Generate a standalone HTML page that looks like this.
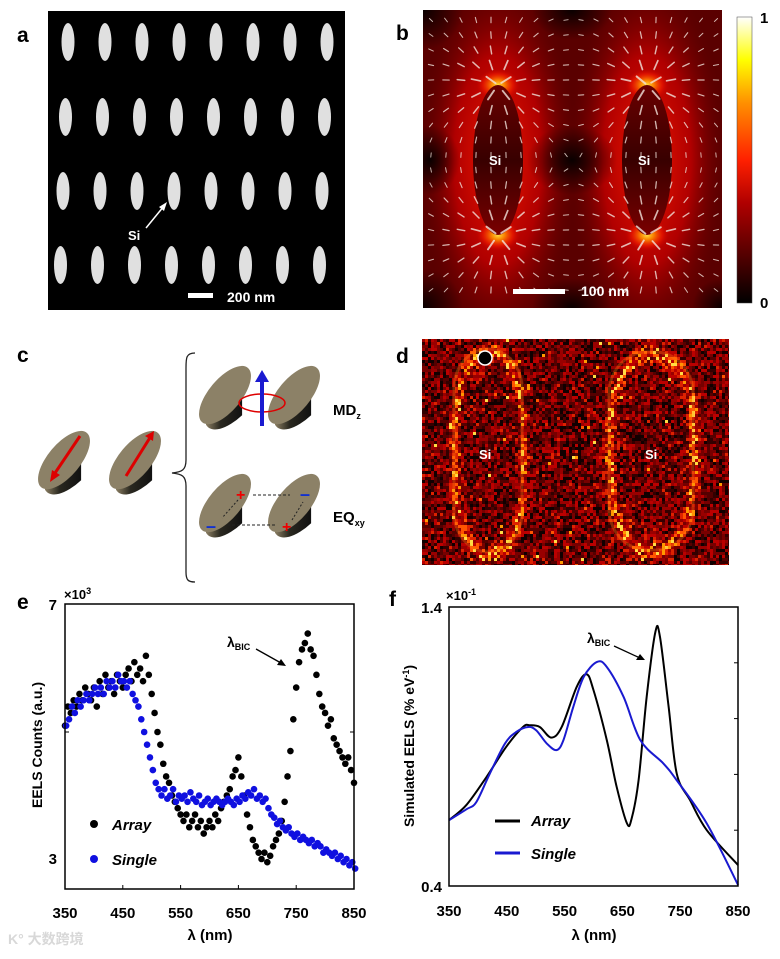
<!DOCTYPE html>
<html><head><meta charset="utf-8">
<style>
html,body{margin:0;padding:0;background:#fff;}
body{width:780px;height:954px;position:relative;overflow:hidden;font-family:"Liberation Sans","Noto Sans CJK SC",sans-serif;}
svg text{font-family:"Liberation Sans","Noto Sans CJK SC",sans-serif;font-weight:bold;}
</style></head>
<body>
<svg id="fig" width="780" height="954" viewBox="0 0 780 954" xmlns="http://www.w3.org/2000/svg">
<defs>
 <clipPath id="clipB"><rect x="423" y="10" width="299" height="298"/></clipPath>
 <clipPath id="clipD"><rect x="422" y="339" width="307" height="226"/></clipPath>
 <radialGradient id="glow" cx="0.5" cy="0.5" r="0.5">
  <stop offset="0" stop-color="#ffe040"/><stop offset="0.3" stop-color="#ff9000" stop-opacity="0.9"/><stop offset="0.7" stop-color="#ff2000" stop-opacity="0.5"/><stop offset="1" stop-color="#d00000" stop-opacity="0"/>
 </radialGradient>
 <radialGradient id="redhalo" cx="0.5" cy="0.5" r="0.5">
  <stop offset="0" stop-color="#f01800"/><stop offset="0.55" stop-color="#c00000" stop-opacity="0.85"/><stop offset="1" stop-color="#600000" stop-opacity="0"/>
 </radialGradient>
 <radialGradient id="darkspot" cx="0.5" cy="0.5" r="0.5">
  <stop offset="0" stop-color="#000" stop-opacity="0.9"/><stop offset="1" stop-color="#000" stop-opacity="0"/>
 </radialGradient>
 <linearGradient id="cbar" x1="0" y1="1" x2="0" y2="0">
  <stop offset="0" stop-color="#000"/><stop offset="0.35" stop-color="#b00000"/><stop offset="0.5" stop-color="#ff2000"/><stop offset="0.7" stop-color="#ff9000"/><stop offset="0.85" stop-color="#ffff00"/><stop offset="1" stop-color="#ffffff"/>
 </linearGradient>
 <linearGradient id="innerSi" x1="0" y1="0" x2="0" y2="1">
  <stop offset="0" stop-color="#6a0000"/><stop offset="0.5" stop-color="#380000"/><stop offset="1" stop-color="#7a0000"/>
 </linearGradient>
 <linearGradient id="side" x1="0" y1="0" x2="1" y2="0">
  <stop offset="0" stop-color="#8a7e62"/><stop offset="0.4" stop-color="#2a2820"/><stop offset="1" stop-color="#111"/>
 </linearGradient>
</defs>

<!-- Panel a -->
<text x="17" y="42" font-size="21">a</text>
<g id="panelA">
 <rect x="48" y="11" width="297" height="299" fill="#000"/>
</g>
<text x="128" y="240" font-size="13" fill="#fff">Si</text>
<line x1="146" y1="228" x2="164" y2="206" stroke="#fff" stroke-width="1.5"/>
<polygon points="167,202 159,207 164,211" fill="#fff"/>
<rect x="188" y="293" width="25" height="5" fill="#fff"/>
<text x="227" y="302" font-size="14" fill="#fff">200 nm</text>

<!-- Panel b -->
<text x="396" y="40" font-size="21">b</text>
<g clip-path="url(#clipB)">
 <rect x="423" y="10" width="299" height="298" fill="#5a0000"/>
 <ellipse cx="498" cy="160" rx="80" ry="190" fill="url(#redhalo)"/>
 <ellipse cx="647" cy="160" rx="80" ry="190" fill="url(#redhalo)"/>
 <ellipse cx="498" cy="85" rx="22" ry="16" fill="url(#glow)"/>
 <ellipse cx="498" cy="235" rx="22" ry="16" fill="url(#glow)"/>
 <ellipse cx="647" cy="85" rx="22" ry="16" fill="url(#glow)"/>
 <ellipse cx="647" cy="235" rx="22" ry="16" fill="url(#glow)"/>
 <ellipse cx="572" cy="160" rx="45" ry="35" fill="url(#darkspot)"/>
 <ellipse cx="430" cy="160" rx="30" ry="35" fill="url(#darkspot)"/>
 <ellipse cx="572" cy="10" rx="40" ry="30" fill="url(#darkspot)"/>
 <ellipse cx="572" cy="308" rx="40" ry="30" fill="url(#darkspot)"/>
 <ellipse cx="423" cy="10" rx="40" ry="40" fill="url(#darkspot)"/>
 <ellipse cx="423" cy="308" rx="40" ry="40" fill="url(#darkspot)"/>
 <ellipse cx="722" cy="308" rx="30" ry="30" fill="url(#darkspot)"/>
 <ellipse cx="498" cy="160" rx="25" ry="75" fill="url(#innerSi)"/>
 <ellipse cx="647" cy="160" rx="25" ry="75" fill="url(#innerSi)"/>
 <g id="arrowsB"></g>
</g>
<text x="489" y="165" font-size="13" fill="#fff">Si</text>
<text x="638" y="165" font-size="13" fill="#fff">Si</text>
<rect x="513" y="289" width="52" height="5" fill="#fff"/>
<text x="581" y="296" font-size="14" fill="#fff">100 nm</text>
<rect x="737" y="17" width="15" height="286" fill="url(#cbar)" stroke="#444" stroke-width="0.5"/>
<text x="760" y="23" font-size="15">1</text>
<text x="760" y="308" font-size="15">0</text>

<!-- Panel c -->
<text x="17" y="362" font-size="21">c</text>
<g id="panelC"></g>
<path d="M195,353 C186,353 186,358 186,368 L186,460 C186,470 182,472 172,473 C182,474 186,476 186,486 L186,572 C186,580 188,582 195,582" fill="none" stroke="#222" stroke-width="1.3"/>
<text x="333" y="415" font-size="15">MD<tspan font-size="9" dy="4">z</tspan></text>
<text x="333" y="522" font-size="15">EQ<tspan font-size="9" dy="4">xy</tspan></text>

<!-- Panel d -->
<text x="396" y="363" font-size="21">d</text>
<g clip-path="url(#clipD)">
 <rect x="422" y="339" width="307" height="226" fill="#2a0000"/>
 <g id="noiseD"></g>
 <rect x="454" y="349" width="68" height="203" rx="34" ry="40" fill="none" stroke="#ff8a10" stroke-width="3" opacity="0.3"/>
 <rect x="609" y="352" width="84" height="198" rx="38" ry="42" fill="none" stroke="#ff8a10" stroke-width="3" opacity="0.3"/>
 <circle cx="485" cy="358" r="7" fill="#000" stroke="#fff" stroke-width="1.5"/>
</g>
<text x="479" y="459" font-size="13" fill="#fff">Si</text>
<text x="645" y="459" font-size="13" fill="#fff">Si</text>

<!-- Panel e -->
<text x="17" y="609" font-size="21">e</text>
<g id="chartE"></g>

<!-- Panel f -->
<text x="389" y="606" font-size="21">f</text>
<g id="chartF"></g>

<text x="8" y="944" font-size="14" fill="#d8d8d8" font-weight="normal">K° 大数跨境</text>
</svg>

<script>
// ---------- Panel e data ----------
const eWavelengths=[350,355,360,365,370,375,380,385,390,395,400,405,410,415,420,425,430,435,440,445,450,455,460,465,470,475,480,485,490,495,500,505,510,515,520,525,530,535,540,545,550,555,560,565,570,575,580,585,590,595,600,605,610,615,620,625,630,635,640,645,650,655,660,665,670,675,680,685,690,695,700,705,710,715,720,725,730,735,740,745,750,755,760,765,770,775,780,785,790,795,800,805,810,815,820,825,830,835,840,845,850];
const eArray=[5.1,5.4,5.3,5.5,5.4,5.6,5.5,5.7,5.6,5.5,5.7,5.4,5.8,5.6,5.9,5.7,5.8,5.6,5.9,5.8,5.7,5.9,6.0,5.8,6.1,5.9,6.0,5.8,6.2,5.9,5.6,5.3,5.0,4.8,4.5,4.3,4.2,4.0,3.9,3.8,3.7,3.6,3.7,3.5,3.6,3.7,3.5,3.6,3.4,3.5,3.6,3.5,3.7,3.6,3.8,3.9,4.0,4.1,4.3,4.4,4.6,4.3,4.0,3.7,3.5,3.3,3.2,3.1,3.0,3.1,2.95,3.05,3.2,3.3,3.4,3.6,3.9,4.3,4.7,5.2,5.7,6.1,6.3,6.4,6.55,6.3,6.2,5.9,5.6,5.4,5.3,5.1,5.2,4.9,4.8,4.7,4.6,4.5,4.6,4.4,4.2];
const eSingle=[5.1,5.2,5.4,5.3,5.5,5.4,5.5,5.6,5.5,5.6,5.7,5.6,5.7,5.6,5.8,5.7,5.8,5.7,5.9,5.8,5.8,5.7,5.8,5.6,5.5,5.4,5.2,5.0,4.8,4.6,4.4,4.2,4.1,4.0,4.1,3.95,4.0,4.1,3.9,4.0,3.95,4.0,3.9,4.05,3.95,3.9,4.0,3.85,3.9,3.95,3.85,3.9,3.95,3.9,3.85,3.9,3.95,3.9,3.85,3.95,3.9,4.0,3.95,4.05,4.0,4.1,3.95,4.0,3.9,3.95,3.8,3.7,3.65,3.55,3.6,3.5,3.45,3.5,3.4,3.35,3.4,3.3,3.35,3.3,3.25,3.3,3.2,3.25,3.2,3.1,3.15,3.1,3.05,3.1,3.0,3.05,2.95,3.0,2.9,2.95,2.85];
const eXTicks=[350,450,550,650,750,850];
const eYTickLabels=["7","3"];
const eYTickValues=[7,3];

// ---------- Panel f data ----------
const fArrayX=[350,380,415,449,478,490,507,527,545,571,588,600,623,640,658,666,678,692,707,715,730,744,767,796,850];
const fArrayY=[0.636,0.69,0.791,0.899,0.970,0.976,0.970,0.932,0.970,1.114,1.159,1.102,0.923,0.756,0.624,0.642,0.779,1.078,1.310,1.293,1.042,0.803,0.708,0.600,0.475];
const fSingleX=[350,380,397,420,447,467,487,501,519,536,548,565,583,606,623,652,681,721,744,796,850];
const fSingleY=[0.636,0.675,0.70,0.80,0.911,0.953,0.970,0.958,0.911,0.887,0.923,1.042,1.149,1.203,1.185,1.078,0.923,0.839,0.779,0.624,0.404];
const fXTicks=[350,450,550,650,750,850];
const fYTickLabels=["1.4","0.4"];
const fYTickValues=[1.4,0.4];

const NS="http://www.w3.org/2000/svg";
function mk(tag,attrs,parent){const el=document.createElementNS(NS,tag);for(const k in attrs)el.setAttribute(k,attrs[k]);parent.appendChild(el);return el;}

// ---------- Panel a ellipses ----------
(function(){
 const g=document.getElementById('panelA');
 const cols=[68,105,142,179,216,253,290,327], rows=[42,117,191,265];
 rows.forEach((cy,ri)=>cols.forEach(cx=>{
  const e=mk('ellipse',{cx:cx-ri*2.5,cy:cy,rx:6.5,ry:19,fill:'#e0e0e0'},g);
  
  
 }));
})();

// ---------- Panel b vector arrows ----------
(function(){
 const g=document.getElementById('arrowsB');
 const centers=[[498,160,1],[647,160,-1]];
 const tips=[];
 centers.forEach(c=>{tips.push([c[0],c[1]-75,c[2]]);tips.push([c[0],c[1]+75,-c[2]]);});
 for(let y=20;y<305;y+=15){for(let x=431;x<720;x+=15){
  let fx=0,fy=0,dmin=1e9;
  tips.forEach(p=>{
   const dx=x-p[0],dy=y-p[1];const r2=dx*dx+dy*dy+100;const r=Math.sqrt(r2);
   dmin=Math.min(dmin,r);
   fx+=p[2]*dx/(r2*r);fy+=p[2]*dy/(r2*r);
  });
  const m=Math.sqrt(fx*fx+fy*fy)||1;
  const ux=fx/m,uy=fy/m;
  const L=3+11*Math.exp(-dmin/45);
  const w=0.8+1.6*Math.exp(-dmin/40);
  mk('line',{x1:x-ux*L/2,y1:y-uy*L/2,x2:x+ux*L/2,y2:y+uy*L/2,stroke:'#f2e4dc','stroke-width':w,'stroke-linecap':'round',opacity:0.8},g);
 }}
})();

// ---------- Panel c schematic ----------
(function(){
 const g=document.getElementById('panelC');
 function particle(cx,cy,sc){
  const rx=20*sc,ry=44*sc,dep=26*sc;
  mk('path',{d:`M${cx-rx},${cy} L${cx-rx},${cy+dep} A${rx},${ry} 40 0 0 ${cx+rx*0.9},${cy+dep-10*sc} L${cx+rx*0.9},${cy-10*sc} Z`,fill:'url(#side)'},g);
  mk('ellipse',{cx:cx,cy:cy-dep*0.2,rx:rx*0.85,ry:ry*0.85,fill:'#8c8167',transform:`rotate(40 ${cx} ${cy-dep*0.2})`},g);
 }
 particle(64,465,0.95);particle(135,465,0.95);
 particle(225,400,0.95);particle(294,400,0.95);
 particle(225,508,0.95);particle(294,508,0.95);
 mk('line',{x1:80,y1:436,x2:53,y2:476,stroke:'#d00',"stroke-width":3},g);
 mk('polygon',{points:'50,482 52,470 60,475',fill:'#d00'},g);
 mk('line',{x1:126,y1:476,x2:151,y2:436,stroke:'#d00',"stroke-width":3},g);
 mk('polygon',{points:'154,431 145,436 153,441',fill:'#d00'},g);
 mk('ellipse',{cx:262,cy:403,rx:23,ry:9,fill:'none',stroke:'#d00',"stroke-width":1.5},g);
 mk('line',{x1:262,y1:426,x2:262,y2:380,stroke:'#1a1ad0',"stroke-width":4},g);
 mk('polygon',{points:'262,370 255,382 269,382',fill:'#1a1ad0'},g);
 const red='#e00',blue='#1030d0';
 mk('text',{x:236,y:500,'font-size':16,fill:red},g).textContent='+';
 mk('text',{x:206,y:532,'font-size':18,fill:blue},g).textContent='–';
 mk('text',{x:300,y:500,'font-size':18,fill:blue},g).textContent='–';
 mk('text',{x:282,y:532,'font-size':16,fill:red},g).textContent='+';
 mk('line',{x1:253,y1:495,x2:290,y2:495,stroke:'#222','stroke-dasharray':'3,2'},g);
 mk('line',{x1:275,y1:525,x2:228,y2:525,stroke:'#222','stroke-dasharray':'3,2'},g);
 mk('line',{x1:238,y1:500,x2:222,y2:518,stroke:'#222','stroke-dasharray':'2,2'},g);
 mk('line',{x1:292,y1:520,x2:303,y2:502,stroke:'#222','stroke-dasharray':'2,2'},g);
})();

// ---------- Panel d noise texture (deterministic) ----------
(function(){
 const g=document.getElementById('noiseD');
 let seed=12345;function rnd(){seed=(seed*1103515245+12345)&0x7fffffff;return seed/0x7fffffff;}
 const cols=['#100','#300','#500','#700','#900','#b00','#d20','#f50','#f90','#fd4'];
 function ring(x,y,cx,cy,a,b){const dx=(x-cx)/a,dy=(y-cy)/b;const r=Math.sqrt(dx*dx+Math.pow(Math.abs(dy),3));return Math.exp(-Math.pow((r-1)*8,2));}
 for(let y=339;y<565;y+=3){for(let x=422;x<729;x+=3){
  const w=Math.max(ring(x,y,488,452,34,102),ring(x,y,651,451,42,99));
  const inner=Math.max(0, 1);
  let v=rnd()*0.62+w*0.22+rnd()*w*0.3;
  if(rnd()<0.02)v+=0.35;
  v=Math.min(v,0.999);
  mk('rect',{x:x,y:y,width:3,height:3,fill:cols[Math.floor(v*cols.length)]},g);
 }}
})();

// ---------- Panel e chart ----------
(function(){
 const g=document.getElementById('chartE');
 const X0=65,X1=354,Y0=604,Y1=889;
 const xs=nm=>X0+(nm-350)/500*(X1-X0);
 const ys=v=>605+(7-v)*63.5;
 eWavelengths.forEach((w,i)=>{
  const c=mk('circle',{cx:xs(w),cy:ys(eArray[i]),r:3.3,fill:'#000'},g);
  
  
 });
 eWavelengths.forEach((w,i)=>{
  const c=mk('circle',{cx:xs(w+2),cy:ys(eSingle[i]),r:3.3,fill:'#1010e0'},g);
  
  
 });
 const box=mk('rect',{x:X0,y:Y0,width:X1-X0,height:Y1-Y0,fill:'none',stroke:'#000','stroke-width':1.5},g);
 
 
 [5].forEach(v=>{mk('line',{x1:X1-4,y1:ys(v),x2:X1,y2:ys(v),stroke:'#000'},g);mk('line',{x1:X0,y1:ys(v),x2:X0+4,y2:ys(v),stroke:'#000'},g);});
 eXTicks.forEach(t=>{
  mk('line',{x1:xs(t),y1:Y1,x2:xs(t),y2:Y1-4,stroke:'#000'},g);
  const tx=mk('text',{x:xs(t),y:918,'font-size':15,'text-anchor':'middle'},g);tx.textContent=t;
  
  
 });
 eYTickValues.forEach((v,i)=>{
  const tx=mk('text',{x:57,y:ys(v)+5,'font-size':15,'text-anchor':'end'},g);tx.textContent=eYTickLabels[i];
  
  
 });
 const ex=mk('text',{x:64,y:599,'font-size':13},g);ex.innerHTML='×10<tspan font-size="9" dy="-5">3</tspan>';
 
 
 const xt=mk('text',{x:210,y:940,'font-size':15,'text-anchor':'middle'},g);xt.textContent='λ (nm)';
 
 
 const yt=mk('text',{x:0,y:0,'font-size':14,'text-anchor':'middle',transform:'translate(42,745) rotate(-90)'},g);yt.textContent='EELS Counts (a.u.)';
 
 
 const an=mk('text',{x:227,y:647,'font-size':14},g);an.innerHTML='λ<tspan font-size="9" dy="3">BIC</tspan>';
 
 
 mk('line',{x1:256,y1:649,x2:281,y2:663,stroke:'#000','stroke-width':1.3},g);
 mk('polygon',{points:'286,666 277,665 281,659',fill:'#000'},g);
 mk('circle',{cx:94,cy:824,r:4,fill:'#000'},g);
 const l1=mk('text',{x:112,y:830,'font-size':15,'font-style':'italic'},g);l1.textContent='Array';
 
 
 mk('circle',{cx:94,cy:859,r:4,fill:'#1010e0'},g);
 const l2=mk('text',{x:112,y:865,'font-size':15,'font-style':'italic'},g);l2.textContent='Single';
 
 
})();

// ---------- Panel f chart ----------
(function(){
 const g=document.getElementById('chartF');
 const X0=449,X1=738,Y0=607,Y1=886;
 const xs=nm=>X0+(nm-350)/500*(X1-X0);
 const ys=v=>Y0+(1.4-v)*(Y1-Y0);
 function path(xa,ya){
  const p=xa.map((x,i)=>[xs(x),ys(ya[i])]);
  let d=`M${p[0][0]},${p[0][1]}`;
  for(let i=0;i<p.length-1;i++){
   const p0=p[i-1]||p[i],p1=p[i],p2=p[i+1],p3=p[i+2]||p2;
   const c1=[p1[0]+(p2[0]-p0[0])/6,p1[1]+(p2[1]-p0[1])/6],c2=[p2[0]-(p3[0]-p1[0])/6,p2[1]-(p3[1]-p1[1])/6];
   d+=` C${c1[0]},${c1[1]} ${c2[0]},${c2[1]} ${p2[0]},${p2[1]}`;
  }
  return d;
 }
 const la=mk('path',{d:path(fArrayX,fArrayY),fill:'none',stroke:'#000','stroke-width':2},g);
 
 
 const ls=mk('path',{d:path(fSingleX,fSingleY),fill:'none',stroke:'#1a1ad0','stroke-width':2},g);
 
 
 const box=mk('rect',{x:X0,y:Y0,width:X1-X0,height:Y1-Y0,fill:'none',stroke:'#000','stroke-width':1.5},g);
 
 
 [0.6,0.8,1.0,1.2].forEach(v=>{mk('line',{x1:X1-4,y1:ys(v),x2:X1,y2:ys(v),stroke:'#000'},g);});
 fXTicks.forEach(t=>{
  const tx=mk('text',{x:xs(t),y:916,'font-size':15,'text-anchor':'middle'},g);tx.textContent=t;
  
  
 });
 fYTickValues.forEach((v,i)=>{
  const tx=mk('text',{x:442,y:ys(v)+6,'font-size':15,'text-anchor':'end'},g);tx.textContent=fYTickLabels[i];
  
  
 });
 const ex=mk('text',{x:446,y:600,'font-size':13},g);ex.innerHTML='×10<tspan font-size="9" dy="-5">-1</tspan>';
 
 
 const xt=mk('text',{x:594,y:940,'font-size':15,'text-anchor':'middle'},g);xt.textContent='λ (nm)';
 
 
 const yt=mk('text',{x:0,y:0,'font-size':14,'text-anchor':'middle',transform:'translate(414,746) rotate(-90)'},g);yt.innerHTML='Simulated EELS (% eV<tspan font-size="9" dy="-5">-1</tspan><tspan dy="5">)</tspan>';
 
 
 const an=mk('text',{x:587,y:643,'font-size':14},g);an.innerHTML='λ<tspan font-size="9" dy="3">BIC</tspan>';
 
 
 mk('line',{x1:614,y1:646,x2:640,y2:658,stroke:'#000','stroke-width':1.3},g);
 mk('polygon',{points:'645,660 636,660 640,654',fill:'#000'},g);
 mk('line',{x1:495,y1:821,x2:520,y2:821,stroke:'#000','stroke-width':3},g);
 const l1=mk('text',{x:531,y:826,'font-size':15,'font-style':'italic'},g);l1.textContent='Array';
 
 
 mk('line',{x1:495,y1:853,x2:520,y2:853,stroke:'#1a1ad0','stroke-width':3},g);
 const l2=mk('text',{x:531,y:859,'font-size':15,'font-style':'italic'},g);l2.textContent='Single';
 
 
})();
</script>
</body></html>
